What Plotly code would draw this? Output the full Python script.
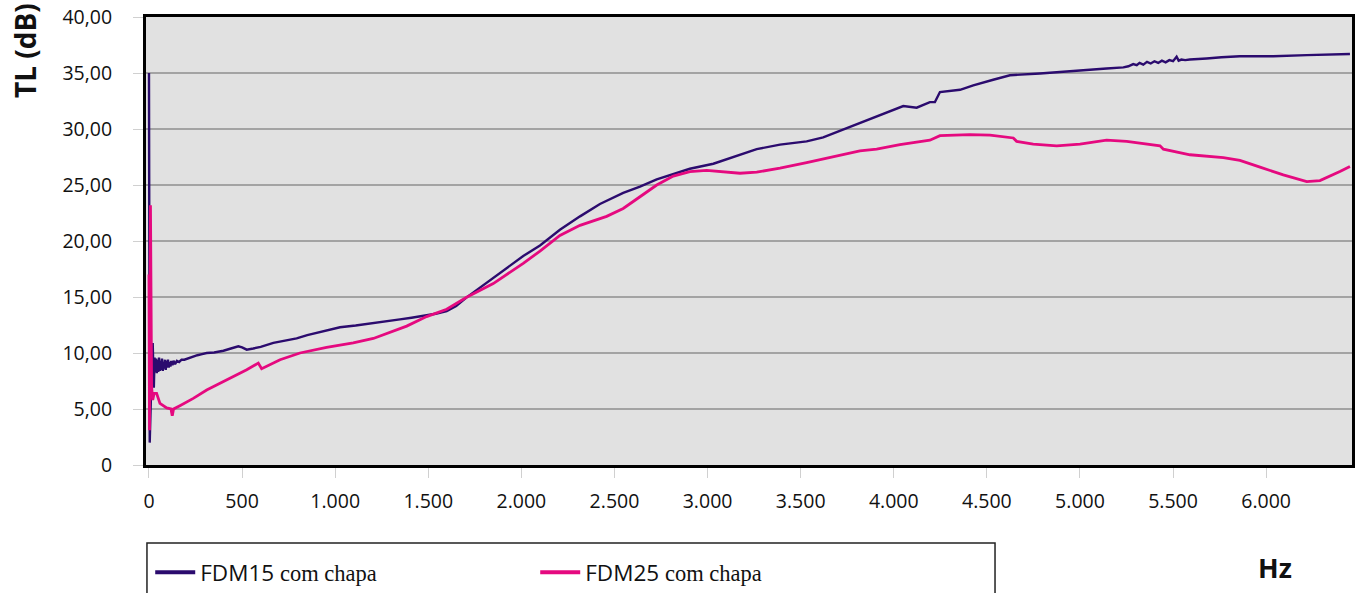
import plotly.graph_objects as go

# ---- data ----
fdm15_hz = [0, 4, 12, 20, 26, 30, 34, 38, 42, 46, 50, 54, 58, 62, 66, 70, 74, 78, 82, 86, 90, 94,
            98, 102, 106, 110, 115, 120, 126, 132, 140, 150, 162, 175, 190, 205, 220, 240,
            260, 285, 310, 350, 400, 440, 480, 500, 525, 560, 600, 668, 730, 793, 850, 900, 960,
            1026, 1110, 1205, 1280, 1348, 1410, 1473, 1540, 1599, 1650, 1706,
            1831, 1920, 2010, 2100, 2207, 2315, 2422, 2547, 2637, 2727, 2816, 2905, 3031, 3138, 3264,
            3389, 3532, 3621, 3711, 3801, 3890, 3980, 4051, 4123, 4194, 4221, 4248, 4356, 4427,
            4534, 4624, 4785, 4964, 5143, 5233, 5260, 5286, 5305, 5320, 5340, 5360, 5380, 5400,
            5420, 5440, 5460, 5480, 5500, 5519, 5530, 5545, 5565, 5590, 5620, 5680, 5760, 5859,
            5950, 6038, 6218, 6450]
fdm15_tl = [35.0, 2.0, 7.0, 10.9, 6.9, 9.6, 8.3, 9.5, 8.2, 9.4, 8.3, 9.6, 8.4, 9.3, 8.5, 9.5, 8.4, 9.2,
            8.6, 9.4, 8.5, 9.3, 8.7, 9.4, 8.7, 9.2, 8.8, 9.3, 8.9, 9.3, 9.0, 9.3, 9.2, 9.4, 9.4, 9.5,
            9.6, 9.7, 9.8, 9.9, 10.0, 10.05, 10.2, 10.4, 10.6, 10.5, 10.3, 10.4, 10.55, 10.9, 11.1,
            11.3, 11.6, 11.8, 12.0, 12.3, 12.45, 12.65, 12.85, 13.0, 13.15, 13.3, 13.5, 13.75, 14.2,
            14.97, 16.5, 17.6, 18.66, 19.6, 21.0, 22.2, 23.3, 24.3, 24.85, 25.5, 26.0, 26.45, 26.9,
            27.5, 28.2, 28.6, 28.9, 29.25, 29.85, 30.4, 31.0, 31.6, 32.05, 31.9, 32.4, 32.4, 33.3,
            33.5, 33.9, 34.4, 34.8, 34.95, 35.2, 35.4, 35.5, 35.6, 35.8, 35.7, 35.9, 35.75, 36.0,
            35.85, 36.05, 35.9, 36.1, 35.95, 36.15, 36.05, 36.45, 36.1, 36.2, 36.15, 36.2, 36.25,
            36.3, 36.4, 36.5, 36.5, 36.5, 36.6, 36.7]

fdm25_hz = [0, 3, 8, 14, 20, 28, 41, 59, 95, 118, 125, 132, 166, 238, 310, 417, 525, 587, 605,
            704, 811, 954, 1097, 1205, 1312, 1384, 1491, 1599, 1706, 1849, 2010, 2100, 2207, 2315,
            2458, 2547, 2637, 2727, 2816, 2905, 2995, 3084, 3174, 3264, 3389, 3532, 3675, 3818,
            3908, 4033, 4194, 4221, 4248, 4409, 4517, 4642, 4660, 4749, 4875, 5000, 5143, 5251,
            5358, 5430, 5448, 5591, 5770, 5859, 5967, 6092, 6218, 6289, 6396, 6450]
fdm25_tl = [17.0, 3.1, 23.2, 7.0, 5.8, 6.4, 6.4, 5.5, 5.1, 5.0, 4.4, 5.0, 5.3, 5.95, 6.7, 7.6, 8.5, 9.1, 8.6,
            9.4, 10.0, 10.5, 10.9, 11.3, 12.0, 12.4, 13.25, 13.9, 14.97, 16.2, 18.0, 19.1, 20.5, 21.4,
            22.2, 22.9, 23.95, 25.0, 25.8, 26.2, 26.3, 26.2, 26.05, 26.15, 26.5, 27.0, 27.5, 28.05,
            28.2, 28.6, 29.0, 29.2, 29.4, 29.5, 29.45, 29.2, 28.9, 28.65, 28.5, 28.65, 29.0, 28.9,
            28.65, 28.5, 28.2, 27.7, 27.45, 27.2, 26.6, 25.9, 25.3, 25.4, 26.2, 26.65]

x_tickvals = [0, 500, 1000, 1500, 2000, 2500, 3000, 3500, 4000, 4500, 5000, 5500, 6000]
x_ticktext = ["0", "500", "1.000", "1.500", "2.000", "2.500", "3.000", "3.500",
              "4.000", "4.500", "5.000", "5.500", "6.000"]
y_tickvals = [0, 5, 10, 15, 20, 25, 30, 35, 40]
y_ticktext = ["0", "5,00", "10,00", "15,00", "20,00", "25,00", "30,00", "35,00", "40,00"]

series_names = [
    "<span style='font-family:Open Sans'>FDM15</span> <span style='font-family:Liberation Serif'>com chapa</span>",
    "<span style='font-family:Open Sans'>FDM25</span> <span style='font-family:Liberation Serif'>com chapa</span>",
]
series_colors = ["#2b0b6e", "#e5097f"]

# ---- figure ----
SANS = "Open Sans"
fig = go.Figure()
fig.add_trace(go.Scatter(x=fdm15_hz, y=fdm15_tl, mode="lines", name=series_names[0],
                         line=dict(color=series_colors[0], width=2.4), showlegend=False))
fig.add_trace(go.Scatter(x=fdm25_hz, y=fdm25_tl, mode="lines", name=series_names[1],
                         line=dict(color=series_colors[1], width=2.8), showlegend=False))
# legend entries with a thicker key line (no data of their own)
for nm, col in zip(series_names, series_colors):
    fig.add_trace(go.Scatter(x=[None], y=[None], mode="lines", name=nm,
                             line=dict(color=col, width=4), showlegend=True))

fig.update_layout(
    width=1356, height=593,
    margin=dict(l=146, r=4, t=17, b=128, autoexpand=False),
    paper_bgcolor="white",
    plot_bgcolor="#e1e1e1",
    font=dict(family=SANS, size=19.5, color="#111"),
    showlegend=True,
    legend=dict(orientation="h", x=0.0035, y=-0.192, xanchor="left", yanchor="top",
                bgcolor="rgba(0,0,0,0)", borderwidth=0, entrywidth=330,
                font=dict(family=SANS, size=22.5, color="#111"), itemwidth=40),
    xaxis=dict(range=[-16, 6461], tickmode="array", tickvals=x_tickvals, ticktext=x_ticktext,
               showgrid=False, zeroline=False, showline=True, mirror=True,
               linecolor="black", linewidth=3, ticks="outside", ticklen=10,
               tickcolor="#d0d0d0", tickwidth=1, ticklabelstandoff=7,
               tickfont=dict(family=SANS, size=19.5)),
    yaxis=dict(range=[0, 40], tickmode="array", tickvals=y_tickvals, ticktext=y_ticktext,
               showgrid=True, gridcolor="#a3a3a3", gridwidth=2, zeroline=False,
               showline=True, mirror=True, linecolor="black", linewidth=3,
               ticks="outside", ticklen=10, tickcolor="#d0d0d0", tickwidth=1,
               ticklabelstandoff=17, ticklabeloverflow="allow",
               tickfont=dict(family=SANS, size=19.5)),
    shapes=[dict(type="rect", xref="paper", yref="paper",
                 x0=0.0008, x1=0.704, y0=-0.174, y1=-0.32,
                 line=dict(color="#222", width=1.5), fillcolor="rgba(0,0,0,0)")],
    annotations=[
        dict(text="<b>TL (dB)</b>", xref="paper", yref="paper", x=-0.1003, y=0.924,
             showarrow=False, textangle=-90, font=dict(family=SANS, size=28, color="#111"),
             xanchor="center", yanchor="middle"),
        dict(text="<b>Hz</b>", xref="paper", yref="paper", x=0.936, y=-0.228,
             showarrow=False, font=dict(family=SANS, size=27, color="#111"),
             xanchor="center", yanchor="middle"),
    ],
)

# remove the browser's default 8px body margin so the figure sits at the page corner
fig.write_html("out.html", config={"displayModeBar": False},
               post_script="document.body.style.margin='0px';")
